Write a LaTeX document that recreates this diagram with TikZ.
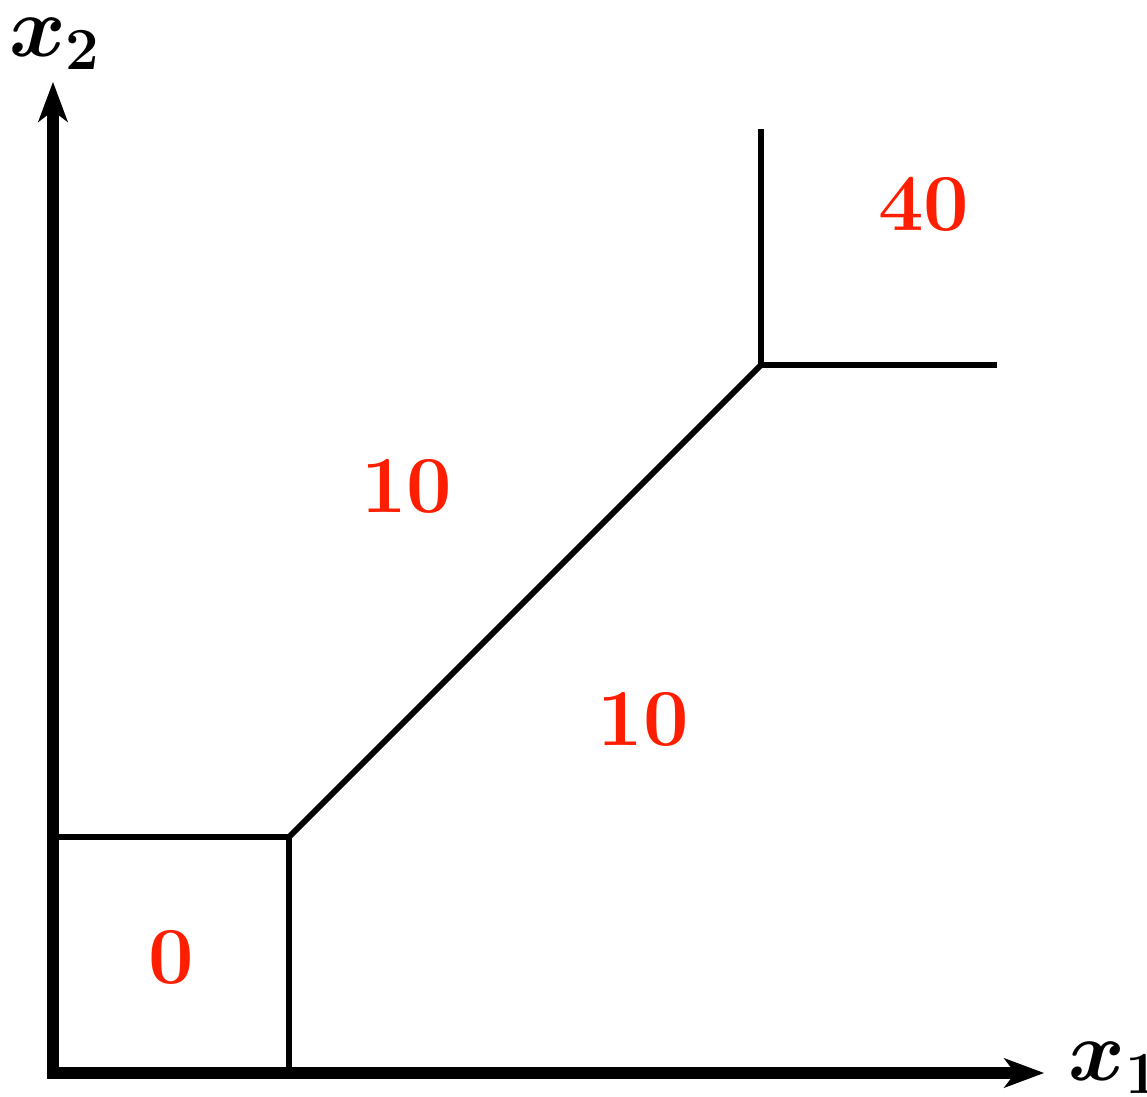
\documentclass[tikz,border=0pt]{standalone}
\usepackage{amsmath,amssymb}
\usepackage{xcolor}
\usepackage{tikz}
\usetikzlibrary{arrows.meta,positioning}

\definecolor{valred}{RGB}{255,30,0}

\begin{document}
\begin{tikzpicture}[
    axis/.style={line width=2.7pt, {Stealth[length=9.6pt, width=7pt, inset=2.6pt]}-{Stealth[length=9.6pt, width=7pt, inset=2.6pt]}},
    border/.style={line width=1.4pt},
    value/.style={text=valred, font=\fontsize{19.5}{23}\selectfont\bfseries, inner sep=0pt},
    axislabel/.style={font=\fontsize{19.5}{23}\selectfont\boldmath, inner sep=0pt}
]
\useasboundingbox (-0.449,-0.203) rectangle (9.271,9.093);

% corner points
\coordinate (O) at (0,0);
\coordinate (xend) at (8.4,0);
\coordinate (yend) at (0,8.4);
\coordinate (low) at (2,2);
\coordinate (high) at (6,6);
\coordinate (lowx) at (2,0);
\coordinate (lowy) at (0,2);
\coordinate (hightop) at (6,8);
\coordinate (highright) at (8,6);

% axes
\draw[axis, miter limit=10] (yend) |- (xend);
\node[axislabel, anchor=west] (xlab) at (8.6,0.04) {$x_1$};
\node[axislabel] (ylab) at (0.02,8.72) {$x_2$};

% region borders
\draw[border] (lowy) -- (low) -- (lowx);
\draw[border] (low) -- (high);
\draw[border] (hightop) -- (high) -- (highright);

% values
\node[value] (v0) at (1.0,0.98) {0};
\node[value] (vup) at (3.0,4.97) {10};
\node[value] (vdown) at (5.0,3.0) {10};
\node[value] (v40) at (7.38,7.36) {40};
\end{tikzpicture}
\end{document}
